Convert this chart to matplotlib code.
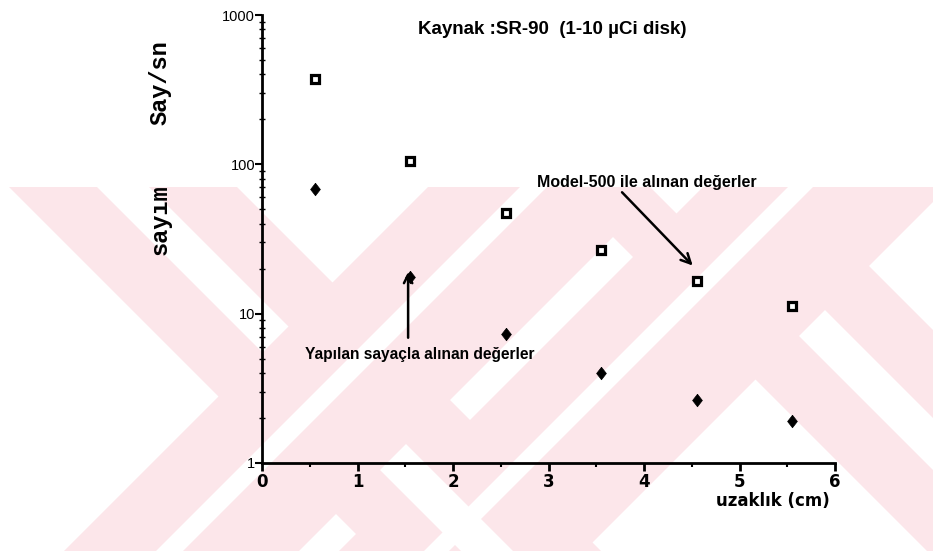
import matplotlib
matplotlib.use('Agg')
import matplotlib.pyplot as plt
from matplotlib.patches import Polygon, Rectangle

# ---- data ----
distance_cm = [0.55, 1.55, 2.55, 3.55, 4.55, 5.55]
model500_counts = [370, 105, 47, 26.5, 16.5, 11.2]
yapilan_counts = [68, 17.5, 7.3, 4.0, 2.65, 1.9]
x_ticks = [0, 1, 2, 3, 4, 5, 6]
y_ticks = [1, 10, 100, 1000]
y_tick_labels = ['1', '10', '100', '1000']

W, H = 933, 553
fig = plt.figure(figsize=(W / 100, H / 100), dpi=100)

# ---- background watermark (decorative, in pixel space) ----
bg = fig.add_axes([0, 0, 1, 1])
bg.set_xlim(0, W)
bg.set_ylim(H, 0)
bg.axis('off')
PINK = '#fce6ea'
Y0, Y1 = 187, 551
BIG = 3000


def band(d_rng=(-BIG, BIG), s_rng=(-BIG, BIG)):
    # region with x - y in d_rng and x + y in s_rng
    d0, d1 = d_rng
    s0, s1 = s_rng
    return [((s + d) / 2, (s - d) / 2) for s, d in ((s0, d0), (s0, d1), (s1, d1), (s1, d0))]


def add(poly, color, z):
    clip = Rectangle((0, Y0), W, Y1 - Y0, transform=bg.transData)
    p = Polygon(poly, closed=True, facecolor=color, edgecolor='none', zorder=z)
    bg.add_patch(p)
    p.set_clip_path(clip)


# left X
add(band(d_rng=(-178, 50)), PINK, 1)
add(band(s_rng=(615, 850)), PINK, 1)
add(band(d_rng=(-90, -38), s_rng=(-BIG, 615)), 'white', 2)
add(band(d_rng=(-90, -38), s_rng=(850, BIG)), 'white', 2)
add(band(s_rng=(707, 734)), 'white', 2)
# right X
add(band(d_rng=(376, 603)), PINK, 1)
add(band(s_rng=(890, 1135)), PINK, 1)
add(band(d_rng=(463, 515), s_rng=(-BIG, 890)), 'white', 2)
add(band(d_rng=(463, 515), s_rng=(1135, BIG)), 'white', 2)
add(band(s_rng=(975, 1000)), 'white', 2)

# ---- main axes ----
ax = fig.add_axes([262 / W, 1 - 463 / H, (835 - 262) / W, (463 - 15) / H])
ax.patch.set_alpha(0)
ax.set_yscale('log')
ax.set_xlim(0, 6)
ax.set_ylim(1, 1000)

diamond = [(0, 1), (0.78, 0), (0, -1), (-0.78, 0), (0, 1)]
ax.plot(distance_cm, model500_counts, linestyle='none', marker='s', markersize=6,
        markerfacecolor='white', markeredgecolor='black', markeredgewidth=2.3)
ax.plot(distance_cm, yapilan_counts, linestyle='none', marker=diamond, markersize=9,
        markerfacecolor='black', markeredgecolor='black', markeredgewidth=0.5)

for s in ('top', 'right'):
    ax.spines[s].set_visible(False)
for s in ('left', 'bottom'):
    ax.spines[s].set_linewidth(2)

SANS = ['Liberation Sans', 'DejaVu Sans']
ax.set_xticks(x_ticks)
ax.set_xticklabels([str(v) for v in x_ticks], fontsize=12, fontweight='bold')
ax.set_xticks([0.5, 1.5, 2.5, 3.5, 4.5, 5.5], minor=True)
ax.set_yticks(y_ticks)
ax.set_yticklabels(y_tick_labels, fontsize=10.5, family=SANS)
ax.tick_params(axis='x', which='major', direction='out', length=6, width=2, pad=1)
ax.tick_params(axis='x', which='minor', direction='out', length=3, width=1.5)
ax.tick_params(axis='y', which='major', direction='out', length=5, width=1.5, pad=0)
ax.tick_params(axis='y', which='minor', direction='inout', length=4, width=1)

MONO = ['Liberation Mono', 'DejaVu Sans Mono']
fig.text(160 / W, 1 - 83 / H, 'Say/sn', rotation=90, ha='center', va='center',
         fontsize=17, fontweight='bold', family=MONO)
fig.text(160 / W, 1 - 220 / H, 'sayım', rotation=90, ha='center', va='center',
         fontsize=17, fontweight='bold', family=MONO)
fig.text(830 / W, 1 - 501 / H, 'uzaklık (cm)', ha='right', va='center',
         fontsize=12, fontweight='bold')
fig.text(552 / W, 1 - 29 / H, 'Kaynak :SR-90  (1-10 µCi disk)', ha='center', va='center',
         fontsize=13.5, fontweight='bold', family=SANS)

ax.text(2.88, 76, 'Model-500 ile alınan değerler', ha='left', va='center',
        fontsize=11.5, fontweight='bold', family=SANS)
ax.annotate('', xy=(4.51, 21), xytext=(3.77, 65),
            arrowprops=dict(arrowstyle='->,head_length=0.7,head_width=0.35', lw=1.8,
                            color='black', shrinkA=0, shrinkB=0))
ax.text(0.45, 5.3, 'Yapılan sayaçla alınan değerler', ha='left', va='center',
        fontsize=11.2, fontweight='bold', family=SANS)
ax.annotate('', xy=(1.53, 19), xytext=(1.53, 6.9),
            arrowprops=dict(arrowstyle='->,head_length=0.6,head_width=0.3', lw=1.8,
                            color='black', shrinkA=0, shrinkB=0))

fig.savefig('out.png', dpi=100)
